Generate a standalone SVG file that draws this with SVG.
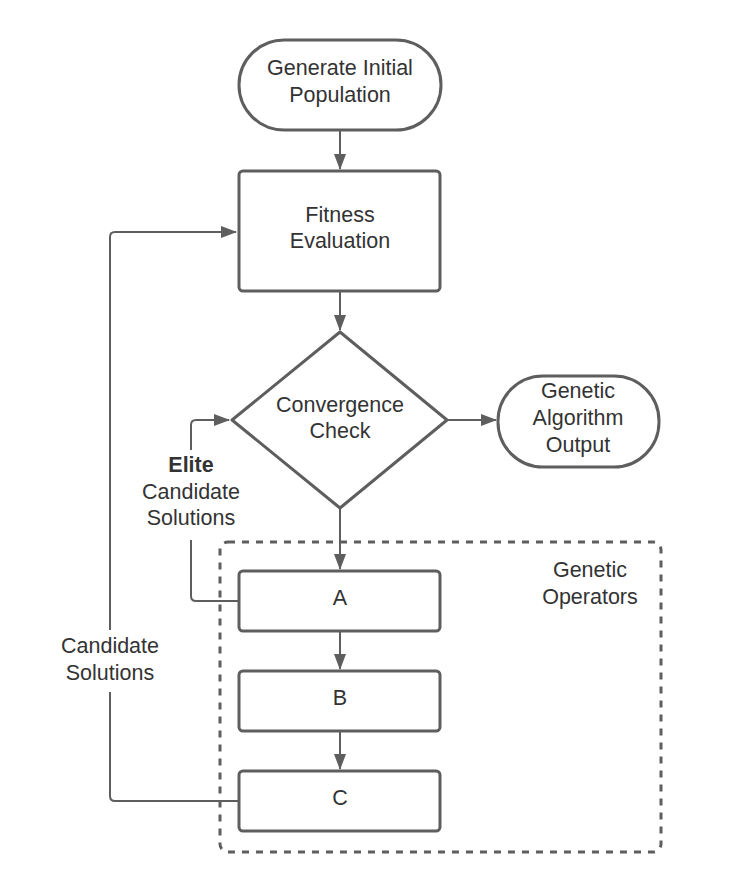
<svg xmlns="http://www.w3.org/2000/svg" width="740" height="891" viewBox="0 0 740 891">
<style>
.s{fill:#fff;stroke:#5e5e5e;stroke-width:3}
.c{fill:none;stroke:#5e5e5e;stroke-width:2}
.t{font-family:"Liberation Sans",Arial,sans-serif;font-size:21.5px;fill:#333;text-anchor:middle}
.b{font-weight:bold}
</style>
<defs>
<marker id="ah" markerWidth="16" markerHeight="12" refX="15" refY="6" orient="auto" markerUnits="userSpaceOnUse">
<path d="M0,0 L16,6 L0,12 z" fill="#5e5e5e"/>
</marker>
</defs>
<rect width="740" height="891" fill="#fff"/>
<g id="genetic-operators">
<rect x="220" y="542" width="441" height="310" rx="8" fill="none" stroke="#5e5e5e" stroke-width="3" stroke-dasharray="7,7"/>
<text class="t" x="590" y="577">Genetic</text>
<text class="t" x="590" y="604">Operators</text>
</g>
<g id="connectors">
<path class="c" d="M340,130 V169" marker-end="url(#ah)"/>
<path class="c" d="M340,291 V330" marker-end="url(#ah)"/>
<path class="c" d="M448,420 H496" marker-end="url(#ah)"/>
<path class="c" d="M340,508 V569" marker-end="url(#ah)"/>
<path class="c" d="M340,631 V669" marker-end="url(#ah)"/>
<path class="c" d="M340,731 V769" marker-end="url(#ah)"/>
<path class="c" d="M238,601 H196 Q191,601 191,596 V540"/>
<path class="c" d="M191,450 V425 Q191,420 196,420 H229" marker-end="url(#ah)"/>
<path class="c" d="M238,801 H115 Q110,801 110,796 V692"/>
<path class="c" d="M110,630 V237 Q110,232 115,232 H236" marker-end="url(#ah)"/>
<text class="t b" x="191" y="472">Elite</text>
<text class="t" x="191" y="499">Candidate</text>
<text class="t" x="191" y="525">Solutions</text>
<text class="t" x="110" y="653">Candidate</text>
<text class="t" x="110" y="680">Solutions</text>
</g>
<g id="start">
<rect class="s" x="239" y="40" width="202" height="90" rx="45"/>
<text class="t" x="340" y="75">Generate Initial</text>
<text class="t" x="340" y="102">Population</text>
</g>
<g id="fitness">
<rect class="s" x="239" y="171" width="201" height="120" rx="4"/>
<text class="t" x="340" y="222">Fitness</text>
<text class="t" x="340" y="248">Evaluation</text>
</g>
<g id="convergence">
<path class="s" d="M340,332 L447,420 L340,508 L232,420 Z" stroke-linejoin="round"/>
<text class="t" x="340" y="412">Convergence</text>
<text class="t" x="340" y="438">Check</text>
</g>
<g id="output">
<rect class="s" x="498" y="376" width="161" height="91" rx="45"/>
<text class="t" x="578" y="398">Genetic</text>
<text class="t" x="578" y="425">Algorithm</text>
<text class="t" x="578" y="452">Output</text>
</g>
<g id="A">
<rect class="s" x="239" y="571" width="201" height="60" rx="4"/>
<text class="t" x="340" y="605">A</text>
</g>
<g id="B">
<rect class="s" x="239" y="671" width="201" height="60" rx="4"/>
<text class="t" x="340" y="705">B</text>
</g>
<g id="C">
<rect class="s" x="239" y="771" width="201" height="60" rx="4"/>
<text class="t" x="340" y="805">C</text>
</g>
</svg>
